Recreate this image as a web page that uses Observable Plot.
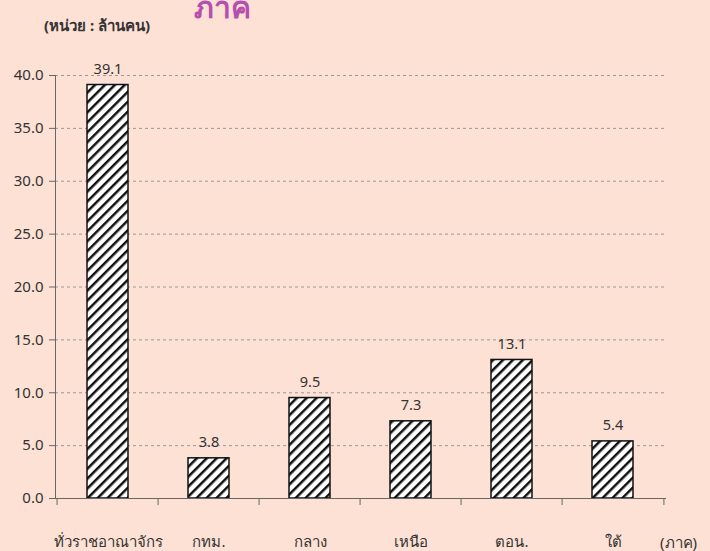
<!DOCTYPE html>
<html>
<head>
<meta charset="utf-8">
<script src="https://cdn.jsdelivr.net/npm/d3@7"></script>
<script src="https://cdn.jsdelivr.net/npm/@observablehq/plot@0.6"></script>
<style>
  html, body { margin: 0; padding: 0; background: #fde1d5; }
  #wrap { position: relative; width: 710px; height: 551px; overflow: hidden; background: #fde1d5;
          font-family: "Liberation Sans Narrow", "Noto Sans", sans-serif; color: #333; }
  #title { position: absolute; left: 194px; top: -16px; font-size: 30px; font-weight: bold; color: #b54fae; }
  #unit { position: absolute; left: 44px; top: 14px; font-size: 15px; font-weight: bold; color: #333; }
  #xunit { position: absolute; left: 660px; top: 531px; font-size: 15px; color: #333; }
  #chart { position: absolute; left: 0; top: 0; }
</style>
</head>
<body>
<div id="wrap">
  <div id="chart"></div>
  <div id="title">ภาค</div>
  <div id="unit">(หน่วย : ล้านคน)</div>
  <div id="xunit">(ภาค)</div>
</div>
<script>
const regions = ["ทั่วราชอาณาจักร", "กทม.", "กลาง", "เหนือ", "ตอน.", "ใต้"];
const values = [39.1, 3.8, 9.5, 7.3, 13.1, 5.4];
const yTicks = [0, 5, 10, 15, 20, 25, 30, 35, 40];

const data = regions.map((r, i) => ({region: r, value: values[i]}));
const step = (666 - 55) / regions.length;

const chart = Plot.plot({
  width: 710,
  height: 551,
  marginLeft: 55,
  marginRight: 44,
  marginTop: 75,
  marginBottom: 53,
  style: {background: "transparent", fontFamily: "'Liberation Sans Narrow', 'Noto Sans', sans-serif", color: "#333"},
  x: {domain: regions, paddingInner: 0.59, paddingOuter: 0.295, label: null},
  y: {domain: [0, 40], label: null},
  marks: [
    Plot.gridY(yTicks, {stroke: "#999", strokeOpacity: 1, strokeDasharray: "3,3"}),
    Plot.axisY(yTicks, {tickFormat: d3.format(".1f"), tickSize: 6, tickPadding: 6, fontSize: 15, stroke: "#666", label: null}),
    Plot.barY(data, {x: "region", y: "value", fill: "url(#hatch)", stroke: "#111", strokeWidth: 1.5}),
    Plot.text(data, {x: "region", y: "value", text: d => d3.format(".1f")(d.value), dy: -16, fontSize: 14.5, fill: "#333"}),
    Plot.frame({anchor: "left", stroke: "#666"}),
    Plot.ruleY([0], {stroke: "#666", strokeWidth: 1.2}),
    Plot.axisX(regions, {tickSize: 0, tickPadding: 38, fontSize: 15, label: null}),
    Plot.axisX(regions, {tickSize: 7, dx: -step / 2, tickFormat: () => "", stroke: "#666", label: null}),
    Plot.axisX([regions[regions.length - 1]], {tickSize: 7, dx: step / 2, tickFormat: () => "", stroke: "#666", label: null})
  ]
});

const ns = "http://www.w3.org/2000/svg";
const defs = document.createElementNS(ns, "defs");
defs.innerHTML = `<pattern id="hatch" patternUnits="userSpaceOnUse" width="7" height="7" patternTransform="rotate(45)">
  <rect width="7" height="7" fill="white"/>
  <line x1="0" y1="0" x2="0" y2="7" stroke="#111" stroke-width="5"/>
</pattern>`;
chart.insertBefore(defs, chart.firstChild);
document.getElementById("chart").appendChild(chart);
</script>
</body>
</html>
